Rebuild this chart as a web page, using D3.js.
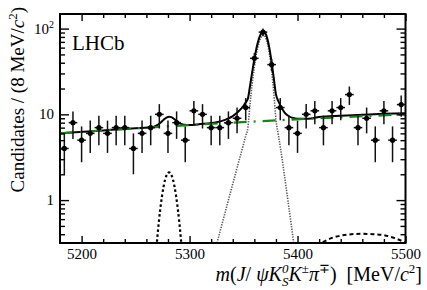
<!DOCTYPE html>
<html>
<head>
<meta charset="utf-8">
<script src="https://cdn.jsdelivr.net/npm/d3@7"></script>
<style>
body { margin: 0; background: #fff; }
text { font-family: "Liberation Serif", "Times New Roman", serif; fill: #000; }
</style>
</head>
<body>
<div id="chart"></div>
<script>
// ---- data ----
var massRange = [5180, 5500];
var yRange = [0.316, 148];
var binWidth = 8;
var binCentres = [5184, 5192, 5200, 5208, 5216, 5224, 5232, 5240, 5248, 5256,
                  5264, 5272, 5280, 5288, 5296, 5304, 5312, 5320, 5328, 5336,
                  5344, 5352, 5360, 5368, 5376, 5384, 5392, 5400, 5408, 5416,
                  5424, 5432, 5440, 5448, 5456, 5464, 5472, 5480, 5488, 5496];
var counts = [4, 8, 5, 6, 7, 6, 7, 7, 4, 6,
              7, 10, 6, 8, 5, 11, 10, 7, 7, 8,
              9, 12, 45, 91, 38, 12, 7, 6, 10, 11,
              7, 11, 12, 17, 7, 9, 5, 11, 5, 13];

// total fit (solid)
var totalMass = [5180, 5220, 5250, 5262, 5267, 5270, 5273, 5276, 5279, 5281, 5283, 5286, 5289, 5292, 5295, 5300,
                 5310, 5320, 5325, 5330, 5335, 5340, 5345, 5350, 5352, 5354, 5356, 5358, 5360, 5362, 5364, 5366,
                 5368.5, 5370, 5372, 5374, 5376, 5378, 5380, 5382, 5384, 5388, 5392, 5396, 5400, 5410, 5420,
                 5440, 5460, 5480, 5500];
var totalVal = [6.0, 6.5, 6.88, 7.03, 7.2, 7.47, 7.97, 8.65, 9.22, 9.36, 9.27, 8.77, 8.17, 7.75, 7.56, 7.52,
                7.7, 7.92, 8.11, 8.4, 8.84, 9.54, 10.7, 12.6, 13.8, 15.2, 21.4, 31.0, 44.0, 59.3, 74.3, 86.3,
                92.4, 89.2, 76.4, 58.4, 40.5, 26.4, 17.2, 14.5, 12.8, 10.5, 9.5, 9.05, 8.9, 8.9, 9.3,
                9.64, 9.9, 10.14, 10.32];

// combinatorial background (green)
var bkgMass = [5180, 5220, 5260, 5300, 5340, 5380, 5420, 5460, 5500];
var bkgVal = [6.0, 6.5, 7.0, 7.5, 8.0, 8.5, 9.0, 9.5, 10.0];

// main peak (dotted)
var sigMass = [5322, 5325, 5330, 5335, 5340, 5345, 5350, 5352, 5354, 5356, 5358, 5360, 5362, 5364, 5366,
               5368.5, 5370, 5372, 5374, 5376, 5378, 5380, 5382, 5384, 5388, 5392, 5396, 5400];
var sigVal = [0.21, 0.30, 0.52, 0.90, 1.54, 2.65, 4.5, 5.6, 7.0, 13.2, 22.8, 35.7, 51, 66, 78,
              84, 80.8, 68, 50, 32, 17.9, 8.7, 6.0, 4.2, 1.9, 0.82, 0.35, 0.15];

// small peak near 5280 (dashed)
var b0Mass = [5265, 5267, 5270, 5273, 5276, 5279, 5281, 5283, 5286, 5289, 5292, 5295, 5297];
var b0Val = [0.05, 0.11, 0.35, 0.81, 1.45, 1.98, 2.1, 1.98, 1.45, 0.81, 0.35, 0.11, 0.05];

// partly reconstructed component (dashed, right)
var prMass = [5412, 5420, 5425, 5430, 5440, 5450, 5460, 5470, 5480, 5490, 5500];
var prVal = [0.27, 0.31, 0.33, 0.355, 0.385, 0.40, 0.405, 0.40, 0.39, 0.36, 0.32];

var xMajorTicks = [5200, 5300, 5400, 5500];
var xMinorTicks = [5220, 5240, 5260, 5280, 5320, 5340, 5360, 5380, 5420, 5440, 5460, 5480];
var yMajorTicks = [1, 10, 100];
var yMinorTicks = [0.4, 0.5, 0.6, 0.7, 0.8, 0.9, 2, 3, 4, 5, 6, 7, 8, 9, 20, 30, 40, 50, 60, 70, 80, 90];

// ---- stage ----
var width = 427,
    height = 290;
var margin = {left: 60, right: 21.5, top: 14, bottom: 47};

var svg = d3.select("#chart")
    .append("svg")
    .attr("width", width)
    .attr("height", height);

var x = d3.scaleLinear().domain(massRange).range([margin.left, width - margin.right]);
var y = d3.scaleLog().domain(yRange).range([height - margin.bottom, margin.top]);

svg.append("clipPath").attr("id", "plotclip")
    .append("rect")
    .attr("x", x.range()[0]).attr("y", y.range()[1])
    .attr("width", x.range()[1] - x.range()[0])
    .attr("height", y.range()[0] - y.range()[1]);

function pairs(ms, vs) { return ms.map(function (m, i) { return [m, vs[i]]; }); }

var line = d3.line()
    .x(function (d) { return x(d[0]); })
    .y(function (d) { return y(d[1]); })
    .curve(d3.curveMonotoneX);

var curves = svg.append("g").attr("clip-path", "url(#plotclip)");

// components first
curves.append("path").datum(pairs(sigMass, sigVal))
    .attr("d", line).attr("fill", "none")
    .attr("stroke", "#555").attr("stroke-width", 1.6)
    .attr("stroke-dasharray", "1.3,1.3");

curves.append("path").datum(pairs(b0Mass, b0Val))
    .attr("d", line).attr("fill", "none")
    .attr("stroke", "#000").attr("stroke-width", 2.2)
    .attr("stroke-dasharray", "2.5,2.5");

curves.append("path").datum(pairs(prMass, prVal))
    .attr("d", line).attr("fill", "none")
    .attr("stroke", "#000").attr("stroke-width", 2)
    .attr("stroke-dasharray", "4,3");

// total
curves.append("path").datum(pairs(totalMass, totalVal))
    .attr("d", line).attr("fill", "none")
    .attr("stroke", "#000").attr("stroke-width", 2);

// background on top
curves.append("path").datum(pairs(bkgMass, bkgVal))
    .attr("d", line).attr("fill", "none")
    .attr("stroke", "#1c801c").attr("stroke-width", 2.2)
    .attr("stroke-dasharray", "13,7,2,7");

// ---- data points ----
var pts = svg.append("g")
    .selectAll("g")
    .data(binCentres.map(function (m, i) { return {m: m, n: counts[i]}; }))
    .enter()
    .append("g");

pts.append("line")
    .attr("x1", function (d) { return x(d.m); })
    .attr("x2", function (d) { return x(d.m); })
    .attr("y1", function (d) { return y(d.n - Math.sqrt(d.n)); })
    .attr("y2", function (d) { return y(d.n + Math.sqrt(d.n)); })
    .attr("stroke", "#111").attr("stroke-width", 1.5);

pts.append("line")
    .attr("x1", function (d) { return x(d.m - binWidth / 2); })
    .attr("x2", function (d) { return x(d.m + binWidth / 2); })
    .attr("y1", function (d) { return y(d.n); })
    .attr("y2", function (d) { return y(d.n); })
    .attr("stroke", "#111").attr("stroke-width", 1.5);

pts.append("circle")
    .attr("cx", function (d) { return x(d.m); })
    .attr("cy", function (d) { return y(d.n); })
    .attr("r", 2.6)
    .attr("fill", "#000");

// ---- axes (ROOT style, ticks inside on all four sides) ----
function styleAxis(g) {
    g.select(".domain").remove();
    g.selectAll(".tick line").attr("stroke", "#000").attr("stroke-width", 1.4);
}

var yBottom = y.range()[0], yTop = y.range()[1];
var xLeft = x.range()[0], xRight = x.range()[1];

svg.append("g").attr("transform", "translate(0," + yBottom + ")")
    .call(d3.axisBottom(x).tickValues(xMajorTicks).tickSize(-7).tickSizeOuter(0).tickPadding(5)
        .tickFormat(d3.format("d")))
    .call(styleAxis)
    .selectAll("text").style("font-size", "15px");
svg.append("g").attr("transform", "translate(0," + yBottom + ")")
    .call(d3.axisBottom(x).tickValues(xMinorTicks).tickSize(-4).tickSizeOuter(0).tickFormat(""))
    .call(styleAxis);
svg.append("g").attr("transform", "translate(0," + yTop + ")")
    .call(d3.axisTop(x).tickValues(xMajorTicks).tickSize(-7).tickSizeOuter(0).tickFormat(""))
    .call(styleAxis);
svg.append("g").attr("transform", "translate(0," + yTop + ")")
    .call(d3.axisTop(x).tickValues(xMinorTicks).tickSize(-4).tickSizeOuter(0).tickFormat(""))
    .call(styleAxis);

svg.append("g").attr("transform", "translate(" + xLeft + ",0)")
    .call(d3.axisLeft(y).tickValues(yMajorTicks).tickSize(-9).tickSizeOuter(0).tickFormat(""))
    .call(styleAxis);
svg.append("g").attr("transform", "translate(" + xLeft + ",0)")
    .call(d3.axisLeft(y).tickValues(yMinorTicks).tickSize(-5).tickSizeOuter(0).tickFormat(""))
    .call(styleAxis);
svg.append("g").attr("transform", "translate(" + xRight + ",0)")
    .call(d3.axisRight(y).tickValues(yMajorTicks).tickSize(-9).tickSizeOuter(0).tickFormat(""))
    .call(styleAxis);
svg.append("g").attr("transform", "translate(" + xRight + ",0)")
    .call(d3.axisRight(y).tickValues(yMinorTicks).tickSize(-5).tickSizeOuter(0).tickFormat(""))
    .call(styleAxis);

// y tick labels: 1, 10, 10^2
yMajorTicks.forEach(function (v) {
    var t = svg.append("text")
        .attr("x", xLeft - 6)
        .attr("y", y(v) + 5)
        .attr("text-anchor", "end")
        .style("font-size", "15px");
    if (v === 100) {
        t.append("tspan").text("10");
        t.append("tspan").attr("dy", -6).style("font-size", "10px").text("2");
    } else {
        t.text(v);
    }
});

// frame
svg.append("rect")
    .attr("x", xLeft).attr("y", yTop)
    .attr("width", xRight - xLeft).attr("height", yBottom - yTop)
    .attr("fill", "none").attr("stroke", "#000").attr("stroke-width", 2);

// ---- labels ----
svg.append("text")
    .attr("x", 72).attr("y", 50)
    .style("font-size", "21px")
    .text("LHCb");

var yl = svg.append("text")
    .attr("transform", "translate(24,7) rotate(-90)")
    .attr("text-anchor", "end")
    .style("font-size", "19px");
yl.append("tspan").text("Candidates / (8 MeV/");
yl.append("tspan").style("font-style", "italic").text("c");
yl.append("tspan").attr("dy", -7).style("font-size", "13px").text("2");
yl.append("tspan").attr("dy", 7).text(")");

var xl = svg.append("text")
    .attr("x", 422).attr("y", 281)
    .attr("text-anchor", "end")
    .style("font-size", "20px");
xl.append("tspan").style("font-style", "italic").text("m");
xl.append("tspan").text("(");
xl.append("tspan").style("font-style", "italic").text("J");
xl.append("tspan").text("/\u00a0");
xl.append("tspan").style("font-style", "italic").text("ψK");
xl.append("tspan").attr("dy", -8).style("font-size", "13px").style("font-style", "italic").text("0");
xl.append("tspan").attr("dx", -6.5).attr("dy", 13).style("font-size", "13px").style("font-style", "italic").text("S");
xl.append("tspan").attr("dy", -5).style("font-style", "italic").text("K");
xl.append("tspan").attr("dy", -8).style("font-size", "13px").text("±");
xl.append("tspan").attr("dy", 8).style("font-style", "italic").text("π");
xl.append("tspan").attr("dy", -8).style("font-size", "13px").text("∓");
xl.append("tspan").attr("dy", 8).text(")\u00a0\u00a0[MeV/");
xl.append("tspan").style("font-style", "italic").text("c");
xl.append("tspan").attr("dy", -8).style("font-size", "13px").text("2");
xl.append("tspan").attr("dy", 8).text("]");
</script>
</body>
</html>
